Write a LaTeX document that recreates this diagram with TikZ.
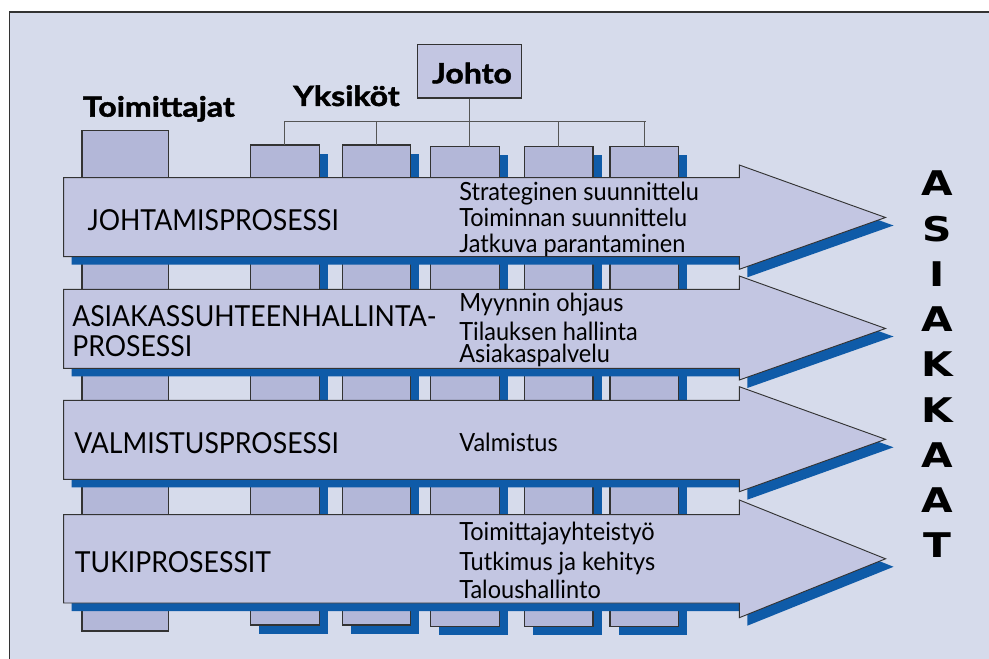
\documentclass[tikz,border=0pt]{standalone}
\usepackage{fontspec}
\setmainfont{Lato}
\newfontfamily\condf[FakeStretch=0.92]{Lato}
\newfontfamily\itemf[FakeStretch=0.94]{Lato}
\newfontfamily\headf[FakeStretch=1.15,FakeBold=1.6]{Lato}
\newfontfamily\blackf[FakeStretch=1.2]{DejaVu Sans}
\usetikzlibrary{fit,shadows}
\definecolor{bgcol}{HTML}{D6DBEB}
\definecolor{arrfill}{HTML}{C3C6E2}
\definecolor{colfill}{HTML}{B3B7D8}
\definecolor{shblue}{HTML}{0F5BA8}
\definecolor{outl}{HTML}{333333}
\definecolor{orgl}{HTML}{555555}
\newcommand{\procarrow}[5]{%
  \begin{scope}[shift={(8,8)}]
    \fill[shblue] (63.7,#1) -- (739.3,#1) -- (739.3,#3) -- (885.5,#5) -- (739.3,#4) -- (739.3,#2) -- (63.7,#2) -- cycle;
  \end{scope}
  \filldraw[arrst] (63.7,#1) -- (739.3,#1) -- (739.3,#3) -- (885.5,#5) -- (739.3,#4) -- (739.3,#2) -- (63.7,#2) -- cycle;
}
\begin{document}
\begin{tikzpicture}[x=0.75pt,y=-0.75pt,
  colbox/.style={draw=outl, line width=0.8pt, fill=colfill, inner sep=0pt, outer sep=0pt},
  colshad/.style={colbox, general shadow={fill=shblue, shadow xshift=6.4pt, shadow yshift=-6.4pt}},
  arrst/.style={fill=arrfill, draw=outl, line width=0.7pt, line join=miter},
  orgline/.style={draw=orgl, line width=0.9pt},
  headlbl/.style={font=\headf\bfseries\fontsize{20.9}{25}\selectfont, inner sep=0pt, anchor=base west},
  proclbl/.style={font=\condf\fontsize{21.7}{22.5}\selectfont, inner sep=0pt, anchor=base west},
  itemlbl/.style={font=\itemf\fontsize{18.8}{20}\selectfont, inner sep=0pt, anchor=base west},
  custlbl/.style={font=\blackf\bfseries\fontsize{25.5}{26}\selectfont, inner sep=0pt, anchor=base},
  johtobox/.style={draw=outl, line width=0.8pt, fill=arrfill, inner sep=0pt}
]
\useasboundingbox (0,0) rectangle (989,659);
\fill[white] (0,0) rectangle (989,659);
\filldraw[fill=bgcol, draw=outl, line width=0.8pt] (9.3,12) rectangle (995,670);

% Johto box
\node[johtobox, fit={(417.7,44.7) (521.3,98)}] (johto) {};
\node[headlbl, anchor=base] (johtotxt) at (472,83.3) {Johto};

% columns
\node[colbox, fit={(82,130.3) (168.7,631)}] (c0) {};
\node[colshad, fit={(250.3,145) (319.3,625)}] (c1) {};
\node[colshad, fit={(342.3,145) (410.3,625)}] (c2) {};
\node[colshad, fit={(430.3,146.7) (499.7,626.7)}] (c3) {};
\node[colshad, fit={(524.3,146.7) (593,626.7)}] (c4) {};
\node[colshad, fit={(610,146.7) (678.7,626.7)}] (c5) {};

% org chart lines
\coordinate (bar) at (0,121.7);
\draw[orgline] (c1.north) -- (c1.north |- bar) -- ([xshift=1.5pt]c5.north |- bar);
\draw[orgline] (c2.north) -- (c2.north |- bar);
\draw[orgline] (c4.north) -- (c4.north |- bar);
\draw[orgline] (c5.north) -- (c5.north |- bar);
\draw[orgline] (johto.south) -- (johto.south |- c3.north);

% process arrows
\procarrow{177.7}{256.7}{165}{269.3}{217.5}
\procarrow{289.3}{368.3}{276}{380}{328.5}
\procarrow{400.3}{479.3}{386.7}{491.7}{439.3}
\procarrow{514.7}{603}{500}{617.7}{558.8}

% headings
\node[headlbl] (toim) at (82.7,116.7) {Toimittajat};
\node[headlbl] (yks) at (293,106) {Yksiköt};

% process labels
\node[proclbl] (p1) at (87.3,230.7) {JOHTAMISPROSESSI};
\node[proclbl] (p2a) at (72,326) {ASIAKASSUHTEENHALLINTA-};
\node[proclbl] (p2b) at (72,356) {PROSESSI};
\node[proclbl] (p3) at (74,453.3) {VALMISTUSPROSESSI};
\node[proclbl] (p4) at (74.7,572.7) {TUKIPROSESSIT};

% item labels
\node[itemlbl] (i11) at (459,200.7) {Strateginen suunnittelu};
\node[itemlbl] (i12) at (459,226.7) {Toiminnan suunnittelu};
\node[itemlbl] (i13) at (459,252.3) {Jatkuva parantaminen};
\node[itemlbl] (i21) at (459,311.7) {Myynnin ohjaus};
\node[itemlbl] (i22) at (459,340.7) {Tilauksen hallinta};
\node[itemlbl] (i23) at (459,362.7) {Asiakaspalvelu};
\node[itemlbl] (i31) at (459,451.7) {Valmistus};
\node[itemlbl] (i41) at (459,540) {Toimittajayhteistyö};
\node[itemlbl] (i42) at (459,570) {Tutkimus ja kehitys};
\node[itemlbl] (i43) at (459,598.3) {Taloushallinto};

% ASIAKKAAT
\foreach \ch [count=\i from 0] in {A,S,I,A,K,K,A,A,T} {
  \node[custlbl] (cust\i) at (937.3,{196+45.2*\i}) {\ch};
}
\end{tikzpicture}
\end{document}
